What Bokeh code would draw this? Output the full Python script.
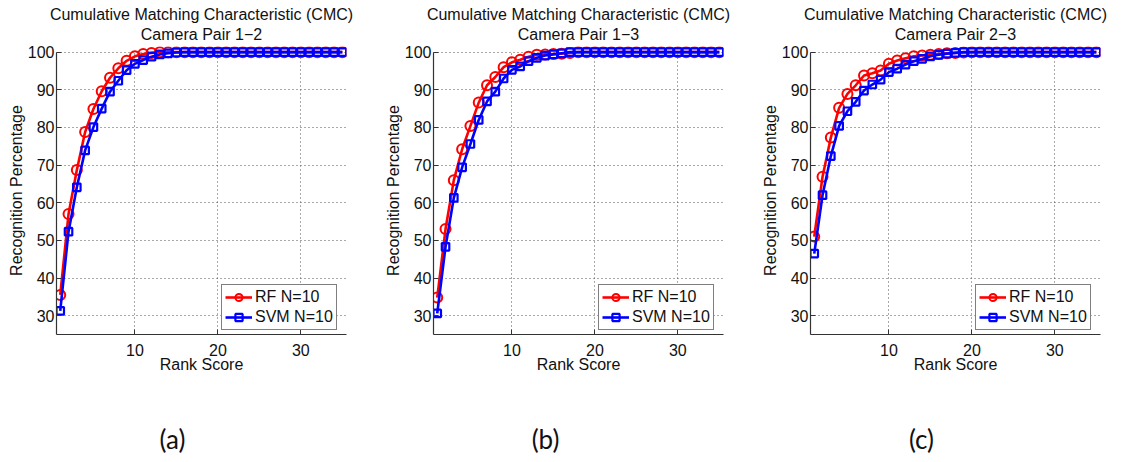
from bokeh.plotting import figure
from bokeh.models import FixedTicker, Title, Legend, LegendItem, Range1d
from bokeh.layouts import row, column
from bokeh.embed import file_html
from bokeh.resources import INLINE

rank = list(range(1, 36))

rf_a = [35.5, 57.0, 68.7, 78.8, 84.9, 89.6, 93.2, 95.7, 97.7, 98.9,
        99.5, 99.8, 100, 100, 100, 100, 100, 100, 100, 100,
        100, 100, 100, 100, 100, 100, 100, 100, 100, 100,
        100, 100, 100, 100, 100]
svm_a = [31.3, 52.3, 64.1, 73.9, 80.1, 85.0, 89.5, 92.4, 95.2, 96.9,
         97.9, 98.8, 99.4, 99.7, 99.9, 100, 100, 100, 100, 100,
         100, 100, 100, 100, 100, 100, 100, 100, 100, 100,
         100, 100, 100, 100, 100]

rf_b = [34.8, 53.0, 66.0, 74.2, 80.4, 86.6, 91.2, 93.4, 96.0, 97.3,
        98.0, 98.8, 99.3, 99.4, 99.5, 99.6, 99.8, 100, 100, 100,
        100, 100, 100, 100, 100, 100, 100, 100, 100, 100,
        100, 100, 100, 100, 100]
svm_b = [30.6, 48.3, 61.3, 69.4, 75.6, 82.0, 86.9, 89.5, 93.0, 95.3,
         96.2, 97.6, 98.5, 99.1, 99.4, 99.7, 100, 100, 100, 100,
         100, 100, 100, 100, 100, 100, 100, 100, 100, 100,
         100, 100, 100, 100, 100]

rf_c = [51.0, 66.9, 77.3, 85.2, 88.9, 91.2, 93.8, 94.4, 95.1, 96.9,
        97.8, 98.4, 98.9, 99.1, 99.3, 99.5, 99.7, 99.8, 99.9, 100,
        100, 100, 100, 100, 100, 100, 100, 100, 100, 100,
        100, 100, 100, 100, 100]
svm_c = [46.5, 62.0, 72.4, 80.4, 84.3, 86.8, 89.8, 91.4, 92.7, 94.7,
         95.6, 96.7, 97.6, 98.2, 98.9, 99.3, 99.6, 99.8, 100, 100,
         100, 100, 100, 100, 100, 100, 100, 100, 100, 100,
         100, 100, 100, 100, 100]

main_title = "Cumulative Matching Characteristic (CMC)"
subtitles = ["Camera Pair 1\u22122", "Camera Pair 1\u22123", "Camera Pair 2\u22123"]
captions = ["(a)", "(b)", "(c)"]
legend_labels = ["RF N=10", "SVM N=10"]
x_label = "Rank Score"
y_label = "Recognition Percentage"
x_ticks = [10, 20, 30]
y_ticks = [30, 40, 50, 60, 70, 80, 90, 100]

FONT = "Liberation Sans"
FS = "16px"


def make_title(text, standoff):
    t = Title(text=text, align="center", text_font=FONT, text_font_size=FS,
              text_font_style="normal", text_color="#111111")
    try:
        t.standoff = standoff
    except Exception:
        t.standoff = 0
    return t


def panel(sub, rf, svm, width, border_right):
    p = figure(width=width, height=378,
               x_range=Range1d(0.55, 35.5), y_range=Range1d(25, 101.5),
               output_backend="svg", toolbar_location=None,
               min_border_left=56, min_border_right=border_right,
               min_border_top=46, min_border_bottom=44)
    p.outline_line_color = None
    p.background_fill_color = "white"
    p.border_fill_color = "white"

    p.add_layout(make_title(sub, 8), "above")
    p.add_layout(make_title(main_title, -6), "above")

    xa = p.xaxis[0]
    xa.ticker = FixedTicker(ticks=x_ticks)
    ya = p.yaxis[0]
    ya.ticker = FixedTicker(ticks=y_ticks)
    ya.bounds = (25, 100)
    for ax in (xa, ya):
        ax.axis_line_color = "#333333"
        ax.axis_line_width = 1.2
        ax.major_tick_in = 5
        ax.major_tick_out = 0
        ax.major_tick_line_color = "#333333"
        ax.minor_tick_line_color = None
        ax.major_label_text_font = FONT
        ax.major_label_text_font_size = FS
        ax.major_label_text_color = "#111111"
        ax.axis_label_text_font = FONT
        ax.axis_label_text_font_size = FS
        ax.axis_label_text_font_style = "normal"
        ax.axis_label_text_color = "#111111"
    xa.axis_label = x_label
    xa.major_label_standoff = 9
    try:
        xa.axis_label_standoff = -3
    except Exception:
        xa.axis_label_standoff = 0
    ya.axis_label = y_label
    ya.major_label_standoff = 2
    ya.axis_label_standoff = 0

    p.xgrid.ticker = FixedTicker(ticks=x_ticks)
    p.ygrid.ticker = FixedTicker(ticks=y_ticks)
    for g in (p.xgrid[0], p.ygrid[0]):
        g.grid_line_color = "#555555"
        g.grid_line_dash = "1 3"
        g.grid_line_width = 1
    try:
        p.xgrid[0].cross_bounds = (25, 100)
    except Exception:
        pass

    l1 = p.line(rank, rf, line_color="#ff0000", line_width=2.6)
    s1 = p.scatter(rank, rf, marker="circle", size=10, line_color="#ff0000",
                   line_width=2, fill_color=None)
    l2 = p.line(rank, svm, line_color="#0000ff", line_width=2.6)
    s2 = p.scatter(rank, svm, marker="square", size=7.5, line_color="#0000ff",
                   line_width=2.2, fill_color=None)

    legend = Legend(items=[LegendItem(label=legend_labels[0], renderers=[l1, s1]),
                           LegendItem(label=legend_labels[1], renderers=[l2, s2])],
                    location=(165, 4))
    legend.border_line_color = "black"
    legend.border_line_width = 1
    legend.background_fill_color = "white"
    legend.background_fill_alpha = 1
    legend.label_text_font = FONT
    legend.label_text_font_size = FS
    legend.label_text_color = "#111111"
    legend.glyph_width = 27
    legend.glyph_height = 18
    legend.label_height = 18
    legend.label_standoff = 3
    legend.padding = 3
    legend.spacing = 2
    legend.margin = 0
    p.add_layout(legend)
    return p


def caption_fig(cap, width, border_right):
    c = figure(width=width, height=82, x_axis_location=None, y_axis_location=None,
               output_backend="svg", toolbar_location=None,
               min_border_left=0, min_border_right=border_right,
               min_border_top=0, min_border_bottom=0)
    c.outline_line_color = None
    c.grid.grid_line_color = None
    c.add_layout(Title(text=cap, align="center", text_font="Lato",
                       text_font_size="26px", text_font_style="normal",
                       text_color="#111111", standoff=12), "below")
    return c


pa = panel(subtitles[0], rf_a, svm_a, 377, 31)
pb = panel(subtitles[1], rf_b, svm_b, 377, 31)
pc = panel(subtitles[2], rf_c, svm_c, 361, 15)

ca = caption_fig(captions[0], 377, 33)
cb = caption_fig(captions[1], 377, 41)
cc = caption_fig(captions[2], 361, 27)

layout = column(row(pa, pb, pc, spacing=0), row(ca, cb, cc, spacing=0), spacing=0)
open("out.html", "w").write(file_html(layout, INLINE))
